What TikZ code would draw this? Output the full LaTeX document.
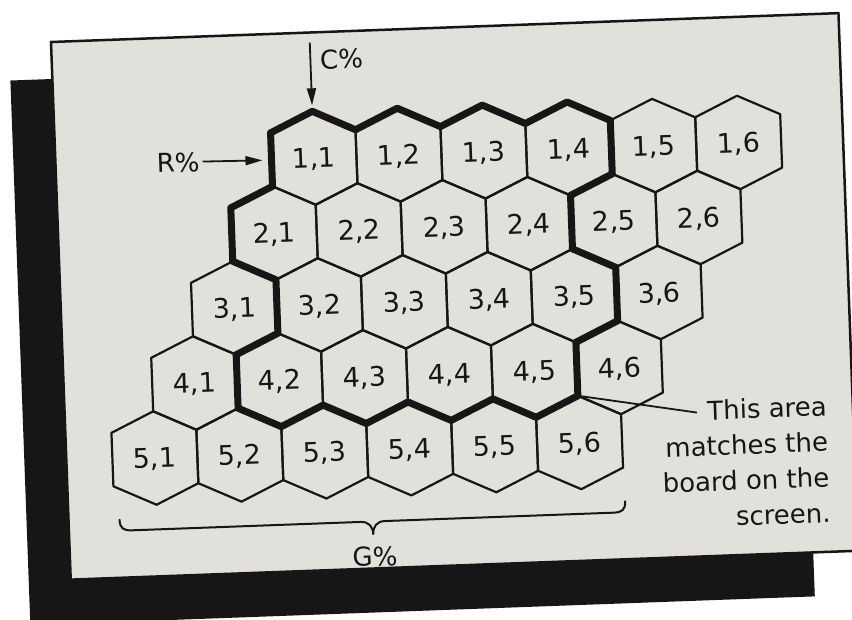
\documentclass[tikz,border=0pt]{standalone}
\usepackage{fontspec}
\setmainfont{DejaVu Sans}
\usetikzlibrary{arrows.meta,calc}
\definecolor{paper}{RGB}{226,224,219}
\definecolor{ink}{RGB}{22,22,22}
\begin{document}
\begin{tikzpicture}[x=1pt,y=-1pt,
  hexline/.style={draw=ink,line width=2.2pt,line join=round},
  boardline/.style={draw=ink,line width=7pt,line join=round},
  hexlab/.style={font=\fontsize{27}{30}\selectfont,text=ink,inner sep=0pt},
  lbl/.style={font=\fontsize{26}{30}\selectfont,text=ink,inner sep=0pt},
  ptr/.style={draw=ink,line width=1.8pt,-{Triangle[length=17pt,width=9pt]}},
  leader/.style={draw=ink,line width=1.8pt},
  bracestyle/.style={draw=ink,line width=2pt,line cap=round}]
\useasboundingbox (0,0) rectangle (852,619);
\fill[white] (0,0) rectangle (852,619);
\begin{scope}[shift={(51,42)},rotate=2.1,transform shape]
  % shadow and panel
  \fill[ink] (-42,37) rectangle (743,582);
  \filldraw[fill=paper,draw=ink,line width=2.5pt] (0,0) rectangle (788,538);
  % hex grid
  \foreach \r in {1,...,5}{
    \foreach \c in {1,...,6}{
      \pgfmathsetmacro\hu{258.6+85*(\c-1)-42.5*(\r-1)}
      \pgfmathsetmacro\hv{125.6+73.5*(\r-1)}
      \coordinate (h\r\c) at (\hu,\hv);
      \coordinate (h\r\c-N)  at (\hu,\hv-46.75);
      \coordinate (h\r\c-NE) at (\hu+42.5,\hv-26.75);
      \coordinate (h\r\c-SE) at (\hu+42.5,\hv+26.75);
      \coordinate (h\r\c-S)  at (\hu,\hv+46.75);
      \coordinate (h\r\c-SW) at (\hu-42.5,\hv+26.75);
      \coordinate (h\r\c-NW) at (\hu-42.5,\hv-26.75);
      \draw[hexline] (h\r\c-N) -- (h\r\c-NE) -- (h\r\c-SE) -- (h\r\c-S) -- (h\r\c-SW) -- (h\r\c-NW) -- cycle;
      \node[hexlab] (t\r\c) at (\hu,\hv+1.5) {\r,\c};
    }
  }
  % board outline
  \draw[boardline] (h11-NW) -- (h11-N) -- (h11-NE) -- (h12-N) -- (h12-NE) -- (h13-N) -- (h13-NE)
    -- (h14-N) -- (h14-NE) -- (h14-SE) -- (h14-S) -- (h24-SE) -- (h35-NE) -- (h35-SE) -- (h35-S)
    -- (h45-SE) -- (h45-S) -- (h45-SW) -- (h44-S) -- (h44-SW) -- (h43-S) -- (h43-SW) -- (h42-S)
    -- (h42-SW) -- (h42-NW) -- (h42-N) -- (h32-NW) -- (h21-SW) -- (h21-NW) -- (h21-N) -- cycle;
  % C% pointer
  \node[lbl,anchor=west] (clab) at (268,28) {C\%};
  \coordinate (cstart) at (258.6,10);
  \draw[ptr,shorten >=6pt] (cstart) -- (h11-N);
  % R% pointer
  \node[lbl,anchor=west] (rlab) at (101,125) {R\%};
  \coordinate (rtip) at (207,126);
  \draw[ptr,shorten <=3pt] (rlab.east) -- (rtip);
  % G% brace
  \coordinate (gl) at (51,480);
  \coordinate (gr) at (557,480);
  \draw[bracestyle] (gl) .. controls +(0,9) and +(-8,0) .. ++(12,11) -- ++(229,0)
    .. controls +(8,0) and +(0,-8) .. ++(12,13)
    .. controls +(0,-8) and +(-8,0) .. ++(12,-13) -- ++(229,0)
    .. controls +(8,0) and +(0,9) .. (gr);
  \node[lbl] (glab) at (305,526) {G\%};
  % note
  \node[lbl,font=\fontsize{26}{35.5}\selectfont,align=right,anchor=north east] (note) at (762,382)
    {This area\\matches the\\board on the\\screen.};
  \coordinate (lead) at (632,394);
  \draw[leader] (lead) -- (h45-SE);
\end{scope}
\end{tikzpicture}
\end{document}
